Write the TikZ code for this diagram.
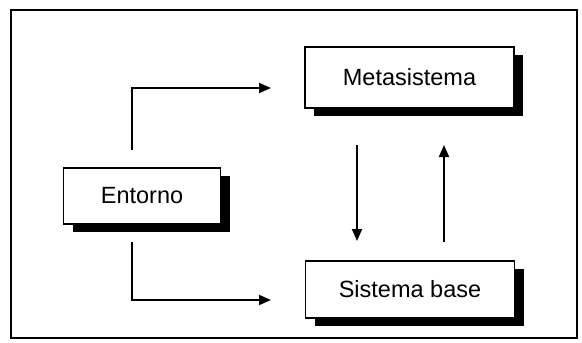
\documentclass[tikz,border=0pt]{standalone}
\usepackage{fontspec}
\setmainfont{Liberation Sans}
\usetikzlibrary{arrows.meta,shadows}
\begin{document}
\begin{tikzpicture}[x=1pt,y=-1pt,
  blockbox/.style={draw=black,line width=1.1pt,fill=white,inner sep=0pt,
    font=\fontsize{23.5}{26}\selectfont,
    general shadow={fill=black,shadow xshift=9pt,shadow yshift=-8pt}},
  arr/.style={line width=1.8pt,-{Triangle[length=12pt,width=10pt]}}]
  \useasboundingbox (0,0) rectangle (582,343);
  % outer frame
  \draw[line width=1.8pt] (11,10) rectangle (577,338);
  % blocks
  \node[blockbox,minimum width=209pt,minimum height=61pt] (meta) at (409.5,77.5) {Metasistema};
  \node[blockbox,minimum width=157pt,minimum height=56pt] (ent) at (142,196) {Entorno};
  \node[blockbox,minimum width=209pt,minimum height=57pt] (base) at (410,289.5) {Sistema base};
  % connector ends
  \coordinate (eu) at (132,150);
  \coordinate (ed) at (132,242);
  \coordinate (mu) at (271,88);
  \coordinate (bd) at (271,300);
  \coordinate (mdown) at (357,145);
  \coordinate (bdown) at (357,241);
  \coordinate (bup) at (444,242);
  \coordinate (mup) at (444,145);
  % connectors
  \draw[arr] (eu) |- (mu);
  \draw[arr] (ed) |- (bd);
  \draw[arr] (mdown) -- (bdown);
  \draw[arr] (bup) -- (mup);
\end{tikzpicture}
\end{document}
